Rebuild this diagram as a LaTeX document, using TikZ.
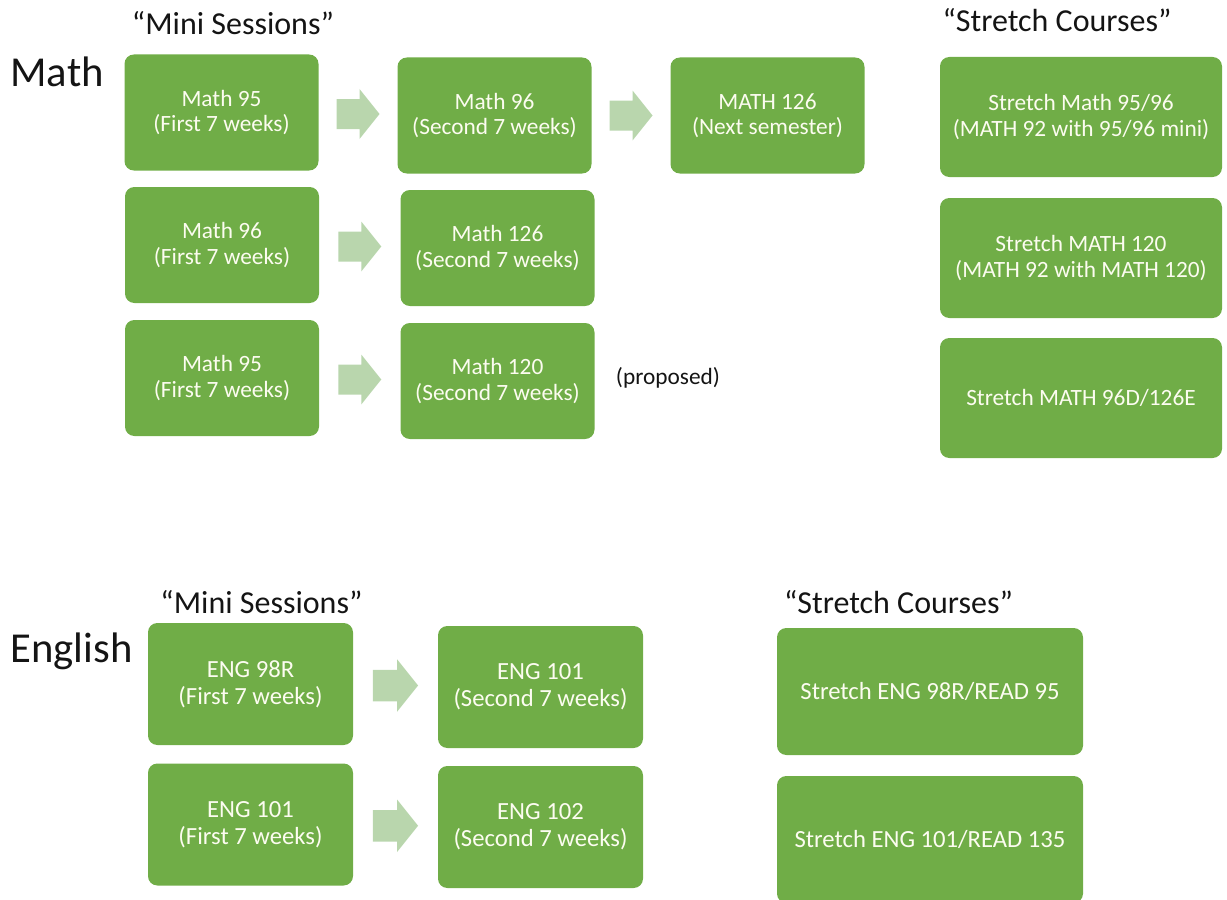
\documentclass[tikz,border=0pt]{standalone}
\usepackage{fontspec}
\setmainfont{Carlito}
\usetikzlibrary{calc}

\definecolor{boxgreen}{RGB}{112,173,71}
\definecolor{arrowgreen}{RGB}{185,214,173}
\definecolor{labelblack}{RGB}{20,20,20}
\definecolor{boxtext}{RGB}{252,252,240}

\tikzset{every picture/.style={line width=0.75pt}}
\tikzset{
  course/.style={fill=boxgreen, rounded corners=7pt, text=boxtext, align=center, inner sep=0pt},
  mathmini/.style={course, minimum width=145.5pt, minimum height=87pt, font=\fontsize{17.5}{19}\selectfont},
  mathstretch/.style={course, minimum width=211.5pt, minimum height=90pt, font=\fontsize{17.5}{19}\selectfont},
  engmini/.style={course, minimum width=153.75pt, minimum height=91.5pt, font=\fontsize{18.5}{20}\selectfont},
  engstretch/.style={course, minimum width=229.5pt, minimum height=95.25pt, font=\fontsize{18.5}{20}\selectfont},
  heading/.style={text=labelblack, inner sep=0pt, anchor=base, font=\fontsize{24}{28}\selectfont},
  subject/.style={text=labelblack, inner sep=0pt, anchor=base west, font=\fontsize{32}{36}\selectfont},
  pics/nextarrow/.style={code={
    \fill[arrowgreen] (-21.5,-15) -- (1.5,-15) -- (1.5,-25) -- (21.5,0) -- (1.5,25) -- (1.5,15) -- (-21.5,15) -- cycle;
  }}
}

\begin{document}
\begin{tikzpicture}[x=0.75pt,y=0.75pt,yscale=-1,xscale=1]
	\useasboundingbox (0,0) rectangle (1227,899); %page as large as the reference

	%Text: Math part headings
	\node[subject] (mathlbl) at (10,87) {Math};
	\node[heading] (mathminihd) at (233,35) {“Mini Sessions”};
	\node[heading] (mathstretchhd) at (1057,32) {“Stretch Courses”};

	%Shape: Math mini sessions, row 1
	\node[mathmini] (m95a) at (221.5,112.5) {Math 95\\(First 7 weeks)};
	\node[mathmini] (m96a) at (494.5,115.5) {Math 96\\(Second 7 weeks)};
	\node[mathmini] (m126a) at (767.5,115.5) {MATH 126\\(Next semester)};
	%Shape: Math mini sessions, row 2
	\node[mathmini] (m96b) at (222,245) {Math 96\\(First 7 weeks)};
	\node[mathmini] (m126b) at (497.5,248) {Math 126\\(Second 7 weeks)};
	%Shape: Math mini sessions, row 3
	\node[mathmini] (m95c) at (222,378) {Math 95\\(First 7 weeks)};
	\node[mathmini] (m120c) at (497.5,381) {Math 120\\(Second 7 weeks)};
	\node[text=labelblack, inner sep=0pt, anchor=base, font=\fontsize{17.5}{19}\selectfont] (proposed) at (668,384) {(proposed)};

	%Shape: Math stretch courses
	\node[mathstretch] (s9596) at (1081,117) {Stretch Math 95/96\\(MATH 92 with 95/96 mini)};
	\node[mathstretch] (s120) at (1081,258) {Stretch MATH 120\\(MATH 92 with MATH 120)};
	\node[mathstretch] (s96d) at (1081,398) {Stretch MATH 96D/126E};

	%Shape: Math arrows
	\pic at ($(m95a.east)!0.5!(m96a.west)$) {nextarrow};
	\pic at ($(m96a.east)!0.5!(m126a.west)$) {nextarrow};
	\pic at ($(m96b.east)!0.5!(m126b.west)$) {nextarrow};
	\pic at ($(m95c.east)!0.5!(m120c.west)$) {nextarrow};

	%Text: English part headings
	\node[subject] (englbl) at (10,662) {English};
	\node[heading] (engminihd) at (261.5,613) {“Mini Sessions”};
	\node[heading] (engstretchhd) at (898.5,613) {“Stretch Courses”};

	%Shape: English mini sessions
	\node[engmini] (e98) at (250.5,684) {ENG 98R\\(First 7 weeks)};
	\node[engmini] (e101a) at (540.5,687) {ENG 101\\(Second 7 weeks)};
	\node[engmini] (e101b) at (250.5,824.5) {ENG 101\\(First 7 weeks)};
	\node[engmini] (e102) at (540.5,827) {ENG 102\\(Second 7 weeks)};

	%Shape: English stretch courses
	\node[engstretch] (es98) at (930,691.5) {Stretch ENG 98R/READ 95};
	\node[engstretch] (es101) at (930,839.5) {Stretch ENG 101/READ 135};

	%Shape: English arrows
	\pic[scale=1.05] at ($(e98.east)!0.5!(e101a.west)$) {nextarrow};
	\pic[scale=1.05] at ($(e101b.east)!0.5!(e102.west)$) {nextarrow};

\end{tikzpicture}
\end{document}
